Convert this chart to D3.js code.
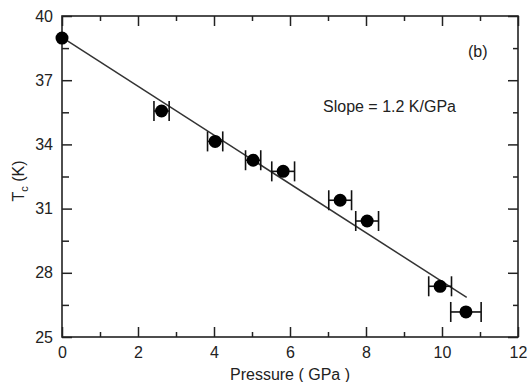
<!DOCTYPE html>
<html>
<head>
<meta charset="utf-8">
<script src="https://cdn.jsdelivr.net/npm/d3@7"></script>
<style>
  body { margin: 0; background: #fff; }
  text { font-family: "Liberation Sans", Arial, Helvetica, sans-serif; fill: #222; }
</style>
</head>
<body>
<svg id="chart" width="527" height="382"></svg>
<script>
// ---- data ----
const pressure    = [0, 2.62, 4.03, 5.03, 5.82, 7.32, 8.03, 9.95, 10.63];
const tc          = [38.97, 35.56, 34.14, 33.26, 32.74, 31.39, 30.42, 27.37, 26.17];
const pressureErr = [0, 0.2, 0.2, 0.2, 0.3, 0.3, 0.3, 0.3, 0.4];
const fitP  = [0, 10.65];
const fitTc = [39.0, 26.85];
const xMajor = [0, 2, 4, 6, 8, 10, 12];
const xMinor = [1, 3, 5, 7, 9, 11];
const yMajor = [25, 28, 31, 34, 37, 40];
const yMinor = [26.5, 29.5, 32.5, 35.5, 38.5];
const slopeLabel = "Slope = 1.2 K/GPa";
const panelLabel = "(b)";

const W = 527, H = 382;
const m = { left: 62, right: 9, top: 16, bottom: 45 };
const iw = W - m.left - m.right, ih = H - m.top - m.bottom;

const svg = d3.select("#chart");
const g = svg.append("g").attr("transform", `translate(${m.left},${m.top})`);

const x = d3.scaleLinear().domain([0, 12]).range([0, iw]);
const y = d3.scaleLinear().domain([25, 40]).range([ih, 0]);

function styleAxis(sel) {
  sel.select(".domain").remove();
  sel.selectAll(".tick line").attr("stroke", "#222").attr("stroke-width", 1.5);
  sel.selectAll(".tick text").style("font-size", "16px").attr("fill", "#222");
}

// bottom
g.append("g").attr("transform", `translate(0,${ih})`)
  .call(d3.axisBottom(x).tickValues(xMajor).tickFormat(d3.format("d")).tickSizeInner(-10).tickSizeOuter(0).tickPadding(10))
  .call(styleAxis);
g.append("g").attr("transform", `translate(0,${ih})`)
  .call(d3.axisBottom(x).tickValues(xMinor).tickFormat("").tickSizeInner(-5).tickSizeOuter(0))
  .call(styleAxis);
// top
g.append("g")
  .call(d3.axisTop(x).tickValues(xMajor).tickFormat("").tickSizeInner(-10).tickSizeOuter(0))
  .call(styleAxis);
g.append("g")
  .call(d3.axisTop(x).tickValues(xMinor).tickFormat("").tickSizeInner(-5).tickSizeOuter(0))
  .call(styleAxis);
// left
g.append("g")
  .call(d3.axisLeft(y).tickValues(yMajor).tickFormat(d3.format("d")).tickSizeInner(-10).tickSizeOuter(0).tickPadding(9))
  .call(styleAxis);
g.append("g")
  .call(d3.axisLeft(y).tickValues(yMinor).tickFormat("").tickSizeInner(-7).tickSizeOuter(0))
  .call(styleAxis);
// right
g.append("g").attr("transform", `translate(${iw},0)`)
  .call(d3.axisRight(y).tickValues(yMajor).tickFormat("").tickSizeInner(-10).tickSizeOuter(0))
  .call(styleAxis);
g.append("g").attr("transform", `translate(${iw},0)`)
  .call(d3.axisRight(y).tickValues(yMinor).tickFormat("").tickSizeInner(-5).tickSizeOuter(0))
  .call(styleAxis);

// frame
g.append("rect").attr("x", 0).attr("y", 0).attr("width", iw).attr("height", ih)
  .attr("fill", "none").attr("stroke", "#222").attr("stroke-width", 1.6);

// fit line
const fitData = fitP.map((p, i) => [p, fitTc[i]]);
g.append("path").datum(fitData)
  .attr("d", d3.line().x(d => x(d[0])).y(d => y(d[1])))
  .attr("fill", "none").attr("stroke", "#333").attr("stroke-width", 1.5);

// data
const pts = pressure.map((p, i) => ({ p, t: tc[i], e: pressureErr[i] }));
const capH = 10;
const eb = g.append("g").attr("stroke", "#111").attr("stroke-width", 1.6);
pts.filter(d => d.e > 0).forEach(d => {
  eb.append("line").attr("x1", x(d.p - d.e)).attr("x2", x(d.p + d.e)).attr("y1", y(d.t)).attr("y2", y(d.t));
  eb.append("line").attr("x1", x(d.p - d.e)).attr("x2", x(d.p - d.e)).attr("y1", y(d.t) - capH).attr("y2", y(d.t) + capH);
  eb.append("line").attr("x1", x(d.p + d.e)).attr("x2", x(d.p + d.e)).attr("y1", y(d.t) - capH).attr("y2", y(d.t) + capH);
});
g.append("g").selectAll("circle").data(pts).join("circle")
  .attr("cx", d => x(d.p)).attr("cy", d => y(d.t)).attr("r", 6.5).attr("fill", "#000");

// annotations
g.append("text").attr("x", x(4.8) + 0).attr("y", y(35.3)).style("font-size", "16px")
  .attr("x", 323 - m.left).attr("y", 112 - m.top).text(slopeLabel);
g.append("text").style("font-size", "16px")
  .attr("x", 468 - m.left).attr("y", 57 - m.top).text(panelLabel);

// axis titles
svg.append("text").attr("x", m.left + iw / 2).attr("y", 380)
  .attr("text-anchor", "middle").style("font-size", "16px").text("Pressure ( GPa )");

const yl = svg.append("text").attr("transform", "translate(24,181) rotate(-90)")
  .attr("text-anchor", "middle").style("font-size", "16px");
yl.append("tspan").text("T");
yl.append("tspan").attr("dy", 4).style("font-size", "11px").text("c");
yl.append("tspan").attr("dy", -4).text(" (K)");
</script>
</body>
</html>
